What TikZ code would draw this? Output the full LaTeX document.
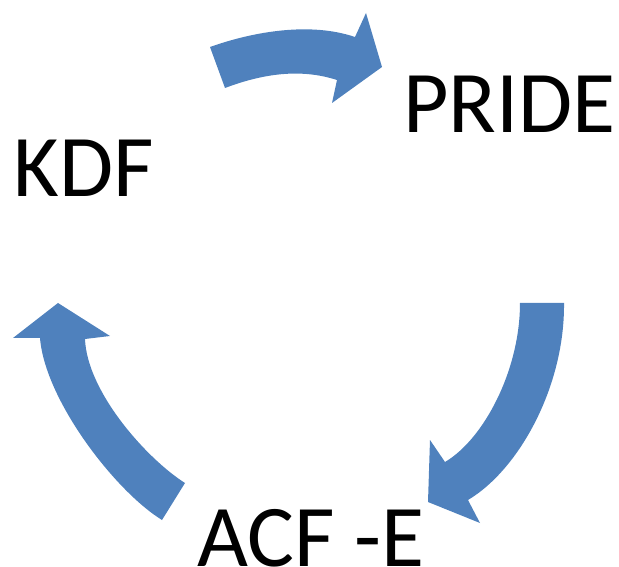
\documentclass[tikz,border=0pt]{standalone}
\usepackage{fontspec}
\setmainfont{Carlito}
\usepackage{xcolor}
\definecolor{arrowblue}{RGB}{79,129,189}

\begin{document}
\begin{tikzpicture}[
    x=0.75pt, y=-0.75pt,
    label/.style={inner sep=0pt,anchor=base west,font=\fontsize{66}{70}\selectfont},
    cyclearrow/.style={fill=arrowblue,draw=none}
]
\useasboundingbox (0,0) rectangle (619,567);

\node[label] (kdf) at (13,197) {KDF};
\node[label] (pride) at (403,133) {PRIDE};
\node[label] (acfe) at (197,566) {ACF -E};

% KDF -> PRIDE
\fill[cyclearrow] (210,47) .. controls (255,31) and (311,22) .. (355,37) -- (366,13) -- (382,67)
    -- (332,103) -- (337,80) .. controls (300,68) and (262,74) .. (225,88) -- cycle;
% PRIDE -> ACF -E
\fill[cyclearrow] (520,303) -- (564,303) .. controls (565,385) and (520,469) .. (468,500)
    -- (480,523) -- (428,502) -- (430,440) -- (445,462) .. controls (484,439) and (520,370) .. (520,303) -- cycle;
% ACF -E -> KDF
\fill[cyclearrow] (58,303) -- (110,336) -- (85,339) .. controls (87,392) and (147,459) .. (185,483)
    -- (162,520) .. controls (115,491) and (45,400) .. (40,338) -- (13,338) -- cycle;
\end{tikzpicture}
\end{document}
